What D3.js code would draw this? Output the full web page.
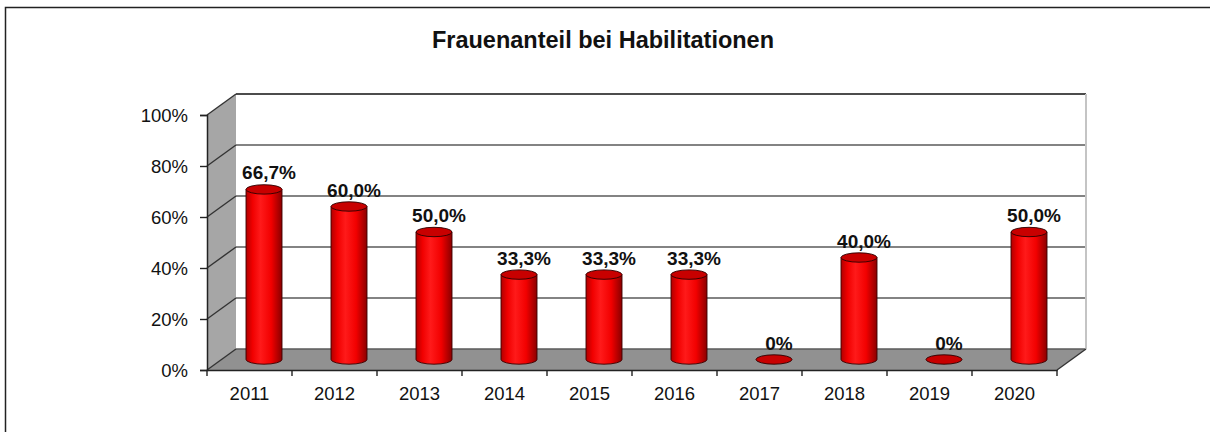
<!DOCTYPE html>
<html>
<head>
<meta charset="utf-8">
<script src="https://cdn.jsdelivr.net/npm/d3@7"></script>
<style>
  body { margin: 0; background: #fff; }
  svg text { font-family: "Liberation Sans", Arial, sans-serif; fill: #111; }
</style>
</head>
<body>
<div id="chart"></div>
<script>
// Data
const years = ["2011", "2012", "2013", "2014", "2015", "2016", "2017", "2018", "2019", "2020"];
const shares = [66.7, 60.0, 50.0, 33.3, 33.3, 33.3, 0, 40.0, 0, 50.0];
const yTicks = [0, 20, 40, 60, 80, 100];
const title = "Frauenanteil bei Habilitationen";

const width = 1210;
const height = 432;
const plot = {left: 207, right: 1057, top: 115, bottom: 370};
const depth = {dx: 29, dy: -21};
const rx = 18;
const ry = 4.7;

const svg = d3.select("#chart")
  .append("svg")
    .attr("width", width)
    .attr("height", height);

// Gradient for cylinders
const defs = svg.append("defs");
const grad = defs.append("linearGradient")
    .attr("id", "cyl")
    .attr("x1", "0%").attr("x2", "100%")
    .attr("y1", "0%").attr("y2", "0%");
[["0%", "#b00000"], ["18%", "#f00000"], ["40%", "#ff1a1a"], ["70%", "#f20000"], ["100%", "#8a0000"]]
  .forEach(([o, c]) => grad.append("stop").attr("offset", o).attr("stop-color", c));

// Outer frame (left and top)
svg.append("path")
    .attr("d", `M5.5,${height} L5.5,7.5 L${width},7.5`)
    .attr("fill", "none")
    .attr("stroke", "#222")
    .attr("stroke-width", 1.5);

// Title
svg.append("text")
    .attr("x", 603)
    .attr("y", 48)
    .attr("text-anchor", "middle")
    .attr("font-size", 23.5)
    .attr("font-weight", "bold")
    .text(title);

// Scales
const xScale = d3.scaleBand()
  .domain(years)
  .range([plot.left, plot.right]);

const yScale = d3.scaleLinear()
  .domain([0, 100])
  .range([plot.bottom, plot.top]);

const g = svg.append("g");

// Back wall
g.append("rect")
    .attr("x", plot.left + depth.dx)
    .attr("y", plot.top + depth.dy)
    .attr("width", plot.right - plot.left)
    .attr("height", plot.bottom - plot.top)
    .attr("fill", "#fff");

// Side wall
g.append("path")
    .attr("d", `M${plot.left},${plot.bottom} L${plot.left},${plot.top} L${plot.left + depth.dx},${plot.top + depth.dy} L${plot.left + depth.dx},${plot.bottom + depth.dy} Z`)
    .attr("fill", "#a6a6a6");

// Floor
g.append("path")
    .attr("d", `M${plot.left},${plot.bottom} L${plot.right},${plot.bottom} L${plot.right + depth.dx},${plot.bottom + depth.dy} L${plot.left + depth.dx},${plot.bottom + depth.dy} Z`)
    .attr("fill", "#919191");

// Gridlines on back wall and side wall
const grid = g.append("g").attr("class", "grid");
grid.selectAll(".grid-back")
  .data(yTicks)
  .join("line")
    .attr("x1", plot.left + depth.dx)
    .attr("x2", plot.right + depth.dx)
    .attr("y1", d => yScale(d) + depth.dy)
    .attr("y2", d => yScale(d) + depth.dy)
    .attr("stroke", d => d === 100 ? "#111" : "#5a5a5a")
    .attr("stroke-width", 1.6);
grid.selectAll(".grid-side")
  .data(yTicks)
  .join("line")
    .attr("x1", plot.left)
    .attr("x2", plot.left + depth.dx)
    .attr("y1", d => yScale(d))
    .attr("y2", d => yScale(d) + depth.dy)
    .attr("stroke", "#333")
    .attr("stroke-width", 1.4);

// Right edge of back wall
g.append("line")
    .attr("x1", plot.right + depth.dx)
    .attr("x2", plot.right + depth.dx)
    .attr("y1", yScale(100) + depth.dy)
    .attr("y2", yScale(0) + depth.dy)
    .attr("stroke", "#c4c4c4")
    .attr("stroke-width", 2);

// Floor right edge
g.append("line")
    .attr("x1", plot.right)
    .attr("y1", plot.bottom)
    .attr("x2", plot.right + depth.dx)
    .attr("y2", plot.bottom + depth.dy)
    .attr("stroke", "#333")
    .attr("stroke-width", 1.4);

// Left axis
const leftAxis = d3.axisLeft(yScale)
  .tickValues(yTicks)
  .tickFormat(d => d + "%")
  .tickSize(7)
  .tickPadding(12);
const yAxis = g.append("g")
    .attr("class", "axis-y")
    .attr("transform", `translate(${plot.left}, 0)`)
    .call(leftAxis);
yAxis.select(".domain").attr("stroke", "#222").attr("stroke-width", 1.5);
yAxis.selectAll(".tick line").attr("stroke", "#222").attr("stroke-width", 1.4);
yAxis.selectAll(".tick text")
    .attr("font-size", 18.5)
    .attr("fill", "#111")
    .attr("dy", "0.36em");

// Bottom axis: labels at band centres, ticks at band edges
const bottomAxis = d3.axisBottom(xScale)
  .tickSize(0)
  .tickPadding(17);
const xAxis = g.append("g")
    .attr("class", "axis-x")
    .attr("transform", `translate(0, ${plot.bottom})`)
    .call(bottomAxis);
xAxis.select(".domain").attr("stroke", "#222").attr("stroke-width", 1.5);
xAxis.selectAll(".tick text")
    .attr("font-size", 18.5)
    .attr("fill", "#111");
xAxis.selectAll(".edge-tick")
  .data(years.concat(["end"]))
  .join("line")
    .attr("class", "edge-tick")
    .attr("x1", (d, i) => plot.left + i * xScale.bandwidth())
    .attr("x2", (d, i) => plot.left + i * xScale.bandwidth())
    .attr("y1", 0)
    .attr("y2", 6)
    .attr("stroke", "#222")
    .attr("stroke-width", 1.4);

// Cylinders
const data = years.map((y, i) => ({year: y, value: shares[i]}));
const cx = d => xScale(d.year) + xScale.bandwidth() / 2 + depth.dx / 2;
const baseY = yScale(0) + depth.dy / 2;
const topY = d => yScale(d.value) + depth.dy / 2;

const bars = g.append("g")
    .attr("class", "bars")
  .selectAll(".bar")
  .data(data)
  .join("g")
    .attr("class", "bar");

bars.filter(d => d.value > 0)
  .append("path")
    .attr("d", d => `M${cx(d) - rx},${topY(d)} L${cx(d) - rx},${baseY} A${rx},${ry} 0 0 0 ${cx(d) + rx},${baseY} L${cx(d) + rx},${topY(d)} Z`)
    .attr("fill", "url(#cyl)")
    .attr("stroke", "#3a0000")
    .attr("stroke-width", 0.9);

bars.append("ellipse")
    .attr("cx", cx)
    .attr("cy", topY)
    .attr("rx", rx)
    .attr("ry", ry)
    .attr("fill", "#c80000")
    .attr("stroke", "#2a0000")
    .attr("stroke-width", 0.9);

// Value labels
const fmt = v => v === 0 ? "0%" : d3.format(".1f")(v).replace(".", ",") + "%";
g.append("g")
    .attr("class", "labels")
  .selectAll(".value-label")
  .data(data)
  .join("text")
    .attr("class", "value-label")
    .attr("x", d => cx(d) + 5)
    .attr("y", d => topY(d) - 10)
    .attr("text-anchor", "middle")
    .attr("font-size", 19)
    .attr("font-weight", "bold")
    .text(d => fmt(d.value));
</script>
</body>
</html>
